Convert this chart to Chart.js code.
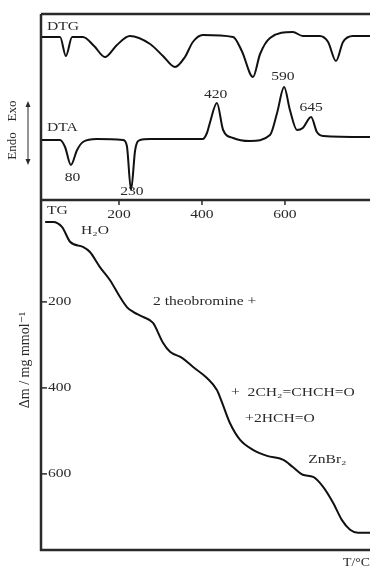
<!DOCTYPE html>
<html>
<head>
<meta charset="utf-8">
<script src="https://cdn.jsdelivr.net/npm/chart.js@4.4.1/dist/chart.umd.min.js"></script>
<style>
html,body{margin:0;padding:0;background:#fff;overflow:hidden;width:370px;height:571px;}
canvas{position:absolute;left:0;top:0;}
</style>
</head>
<body>
<canvas id="top" width="370" height="571"></canvas>
<canvas id="bot" width="370" height="571"></canvas>
<script>
// ---- data ----
// temperatures in °C
const dtgT = [12, 58, 72, 87, 113, 140, 166, 195, 226, 275, 306, 335, 359, 378, 402, 475, 496, 523, 540, 564, 619, 643, 684, 704, 723, 740, 764, 805];
const dtgV = [163, 163, 144, 163, 163, 154, 143, 155, 164, 156, 144, 133, 143, 158, 165, 163, 149, 123, 146, 162, 168, 164, 164, 158, 139, 158, 164, 164];
const dtaT = [12, 58, 70, 84, 99, 113, 147, 210, 219, 229, 239, 251, 275, 402, 412, 419, 436, 451, 475, 516, 564, 581, 598, 612, 629, 643, 663, 677, 692, 805];
const dtaV = [60, 60, 53, 35, 50, 58, 61, 60, 54, 10, 50, 60, 61, 61, 67, 77, 97, 70, 62, 59, 65, 87, 113, 90, 70, 72, 83, 68, 64, 63];
const tgT = [22, 41, 63, 82, 113, 130, 154, 178, 202, 219, 234, 258, 282, 306, 323, 352, 378, 412, 436, 448, 467, 492, 523, 557, 595, 619, 643, 668, 692, 716, 737, 757, 776, 805];
const tgV = [14, 14, 26, 60, 72, 84, 119, 149, 188, 212, 223, 235, 249, 295, 316, 330, 351, 377, 405, 433, 481, 521, 544, 558, 567, 584, 602, 607, 630, 667, 707, 730, 737, 737];
const peakLabels = ['80', '230', '420', '590', '645'];
const xTicks = [200, 400, 600];
const yTicks = [200, 400, 600];

const FONT = "'Liberation Serif', 'DejaVu Serif', serif";
const INK = '#2a2a2a';

function txt(ctx, s, x, y, o = {}) {
  const size = o.size || 12, sx = o.sx || 1.3, align = o.align || 'center';
  ctx.save();
  ctx.translate(x, y);
  if (o.rot) ctx.rotate(o.rot);
  ctx.scale(sx, 1);
  ctx.font = size + 'px ' + FONT;
  ctx.fillStyle = o.color || INK;
  ctx.textAlign = align;
  ctx.textBaseline = 'middle';
  ctx.fillText(s, 0, 0);
  ctx.restore();
}
function line(ctx, x1, y1, x2, y2, w) {
  ctx.save();
  ctx.strokeStyle = INK;
  ctx.lineWidth = w;
  ctx.beginPath(); ctx.moveTo(x1, y1); ctx.lineTo(x2, y2); ctx.stroke();
  ctx.restore();
}

const pts = (xs, ys) => xs.map((x, i) => ({x: x, y: ys[i]}));
const lineDs = (label, data) => ({label, data, borderColor: '#111', borderWidth: 2, pointRadius: 0,
  cubicInterpolationMode: 'monotone', fill: false});

// ---- top panel: DTG / DTA ----
const topPlugin = {
  id: 'topDeco',
  afterDraw(chart) {
    const ctx = chart.ctx, a = chart.chartArea, xs = chart.scales.x, ys = chart.scales.y;
    // frame
    line(ctx, a.left, a.top, 370, a.top, 2.5);
    txt(ctx, 'DTG', a.left + 6, 27, {align: 'left'});
    txt(ctx, 'DTA', a.left + 6, 128, {align: 'left'});
    // peak labels (temperature, signal position for label)
    const lp = [[88, 22], [231, 8], [433, 105], [595, 123], [663, 92]];
    peakLabels.forEach((s, i) => txt(ctx, s, xs.getPixelForValue(lp[i][0]), ys.getPixelForValue(lp[i][1])));
    // Endo / Exo with arrow
    txt(ctx, 'Endo', 13, 146, {rot: -Math.PI / 2, sx: 1, size: 13});
    txt(ctx, 'Exo', 13, 111, {rot: -Math.PI / 2, sx: 1, size: 13});
    line(ctx, 28, 104, 28, 162, 1);
    ctx.save(); ctx.fillStyle = INK;
    ctx.beginPath(); ctx.moveTo(28, 101); ctx.lineTo(25.5, 107); ctx.lineTo(30.5, 107); ctx.closePath(); ctx.fill();
    ctx.beginPath(); ctx.moveTo(28, 165); ctx.lineTo(25.5, 159); ctx.lineTo(30.5, 159); ctx.closePath(); ctx.fill();
    ctx.restore();
  }
};
new Chart(document.getElementById('top'), {
  type: 'line',
  data: {datasets: [lineDs('DTG', pts(dtgT, dtgV)), lineDs('DTA', pts(dtaT, dtaV))]},
  options: {
    responsive: false, animation: false, devicePixelRatio: 1,
    layout: {padding: {left: 41, top: 14, right: 0, bottom: 371}},
    plugins: {legend: {display: false}, tooltip: {enabled: false}},
    scales: {
      x: {type: 'linear', min: 12, max: 805, display: false},
      y: {type: 'linear', min: 0, max: 186, display: false}
    }
  },
  plugins: [topPlugin]
});

// ---- bottom panel: TG ----
const botPlugin = {
  id: 'botDeco',
  afterDraw(chart) {
    const ctx = chart.ctx, a = chart.chartArea, xs = chart.scales.x, ys = chart.scales.y;
    line(ctx, a.left, 14, a.left, a.bottom + 1, 2.5);
    line(ctx, a.left, a.top, 370, a.top, 2.5);
    line(ctx, a.left - 1, a.bottom, 370, a.bottom, 2.5);
    xTicks.forEach(v => {
      const px = xs.getPixelForValue(v);
      line(ctx, px, a.top, px, a.top + 5, 1.5);
      txt(ctx, String(v), px, a.top + 15);
    });
    yTicks.forEach(v => {
      const py = ys.getPixelForValue(v);
      line(ctx, a.left, py, a.left + 6, py, 1.5);
      txt(ctx, String(v), a.left + 7, py, {align: 'left'});
    });
    txt(ctx, 'TG', a.left + 6, 211, {align: 'left'});
    txt(ctx, 'T/°C', 370, 563, {align: 'right', sx: 1.15});
    txt(ctx, 'Δm / mg mmol⁻¹', 25, 360, {rot: -Math.PI / 2, sx: 1, size: 14});
    // annotations at (T, Δm) positions
    const at = (t, v) => [xs.getPixelForValue(t), ys.getPixelForValue(v)];
    let p;
    p = at(142, 35);  txt(ctx, 'H₂O', p[0], p[1]);
    p = at(282, 200); txt(ctx, '2 theobromine +', p[0], p[1], {align: 'left'});
    p = at(470, 412); txt(ctx, '+  2CH₂=CHCH=O', p[0], p[1], {align: 'left'});
    p = at(504, 472); txt(ctx, '+2HCH=O', p[0], p[1], {align: 'left'});
    p = at(656, 567); txt(ctx, 'ZnBr₂', p[0], p[1], {align: 'left'});
  }
};
new Chart(document.getElementById('bot'), {
  type: 'line',
  data: {datasets: [lineDs('TG', pts(tgT, tgV))]},
  options: {
    responsive: false, animation: false, devicePixelRatio: 1,
    layout: {padding: {left: 41, top: 200, right: 0, bottom: 21}},
    plugins: {legend: {display: false}, tooltip: {enabled: false}},
    scales: {
      x: {type: 'linear', min: 12, max: 805, display: false},
      y: {type: 'linear', min: -37, max: 777, reverse: true, display: false}
    }
  },
  plugins: [botPlugin]
});
</script>
</body>
</html>
